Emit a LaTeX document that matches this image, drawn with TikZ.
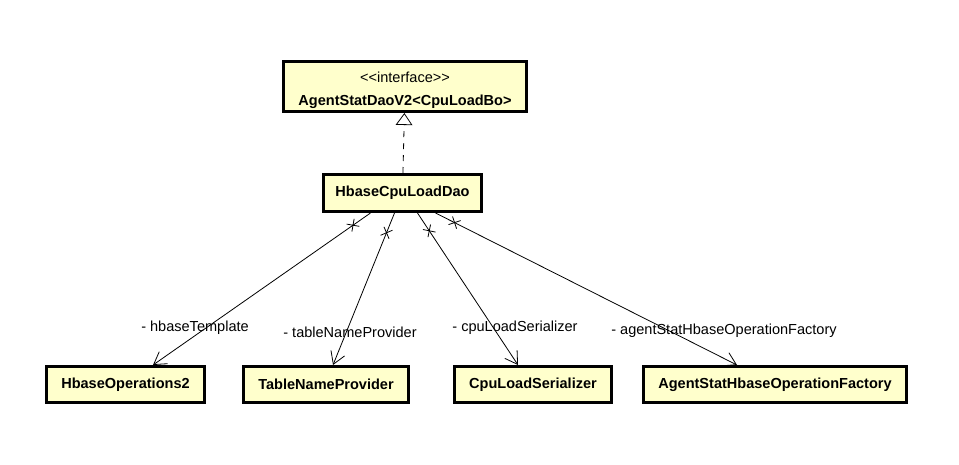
\documentclass[tikz,border=0pt]{standalone}
\usepackage{fontspec}
\setmainfont{Liberation Sans}
\usetikzlibrary{calc, arrows.meta, decorations.markings}

\definecolor{classfill}{HTML}{FFFFCC}

\tikzset{
	classbox/.style={draw, line width=2.25pt, fill=classfill, minimum height=27pt, inner sep=0pt, font=\fontsize{10.9}{13}\selectfont\bfseries},
	assoc/.style={line width=0.6pt, -{Straight Barb[length=9pt, width=11pt, line width=0.6pt]},
		postaction={decorate, decoration={markings, mark=at position 16pt with {\draw[-, line width=0.6pt] (-3.4pt,-3.4pt) -- (3.4pt,3.4pt) (-3.4pt,3.4pt) -- (3.4pt,-3.4pt);}}}},
	realize/.style={line width=0.6pt, dash pattern=on 4.5pt off 4.5pt, -{Triangle[open, length=9pt, width=12.5pt, line width=0.6pt]}},
	rolename/.style={font=\fontsize{10.9}{13}\selectfont, inner sep=0pt}
}

\begin{document}
\begin{tikzpicture}[x=0.75pt, y=-0.75pt]
	\useasboundingbox (0,0) rectangle (959,464);

	% draw interface and dao
	\node[classbox, minimum width=182.25pt, minimum height=37.5pt, align=center, font=\fontsize{10.9}{17}\selectfont\bfseries] (iface) at (405,86.5)
		{\rule{0pt}{14pt}{\mdseries <\kern0pt<interface>\kern0pt>}\\AgentStatDaoV2<CpuLoadBo>};
	\node[classbox, minimum width=118.5pt, minimum height=27.75pt] (dao) at (402.5,193) {HbaseCpuLoadDao};
	\draw[realize] (dao) -- (iface);

	% draw field types
	\foreach \s/\x/\w/\name in {0/125.5/118.5/HbaseOperations2, 1/326/123.75/TableNameProvider, 2/533/117.75/CpuLoadSerializer, 3/775/197.25/AgentStatHbaseOperationFactory}
	{
		\node[classbox, minimum width=\w pt] (f_\s) at (\x,384.5) {\name};
	}

	% draw associations
	\foreach \s/\a/\b/\lab/\lx/\ly in {0/-32/27.5/hbaseTemplate/195/328, 1/-8/7/tableNameProvider/350/332, 2/15/-15/cpuLoadSerializer/515/328, 3/33/-38/agentStatHbaseOperationFactory/724/331}
	{
		\draw[assoc] ($(dao.south)+(\a,0)$) -- ($(f_\s.north)+(\b,0)$);
		\node[rolename] (r_\s) at (\lx,\ly) {- \lab};
	}

\end{tikzpicture}
\end{document}
